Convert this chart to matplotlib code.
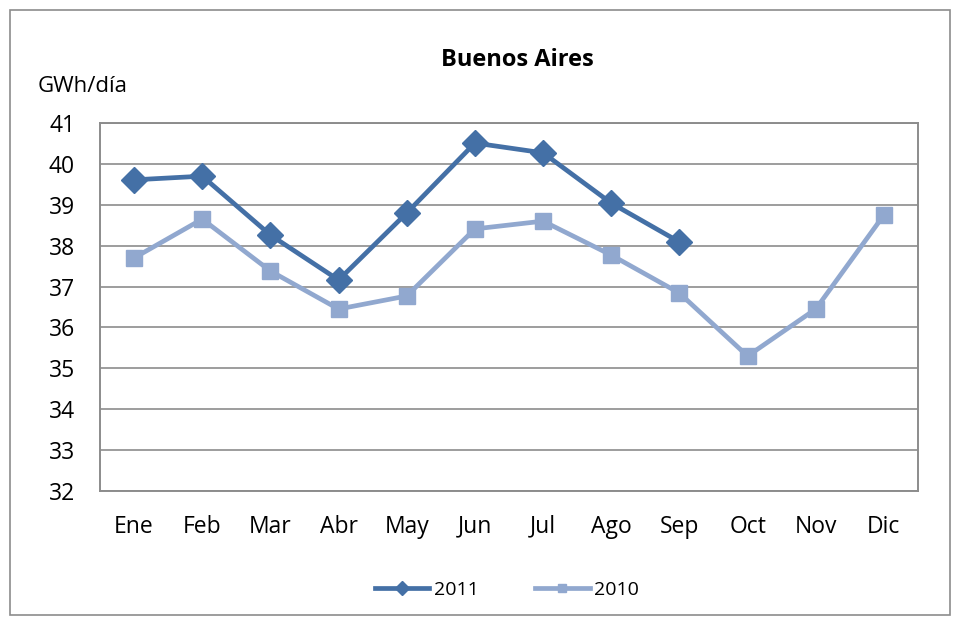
import matplotlib.pyplot as plt
import numpy as np
from matplotlib.patches import Rectangle

# meses y consumo diario (GWh/día)
meses = ["Ene", "Feb", "Mar", "Abr", "May", "Jun", "Jul", "Ago", "Sep", "Oct", "Nov", "Dic"]
valores_2011 = [39.61, 39.70, 38.26, 37.16, 38.80, 40.51, 40.27, 39.04, 38.09]
valores_2010 = [37.70, 38.65, 37.38, 36.45, 36.77, 38.41, 38.60, 37.77, 36.84, 35.30, 36.45, 38.75]

plt.rcParams['font.family'] = ['Open Sans', 'DejaVu Sans']

fig = plt.figure(figsize=(9.56, 6.21), dpi=100)
ax = fig.add_axes([100 / 956, 1 - 491 / 621, 818 / 956, 368 / 621])

# marco exterior del gráfico
fig.patches.append(Rectangle((10 / 956, 1 - 615 / 621), 940 / 956, 605 / 621,
                             transform=fig.transFigure, fill=False,
                             edgecolor='#8c8c8c', linewidth=1.2))

x = np.arange(len(meses))
c2011 = '#4470a6'
c2010 = '#91a8cf'

ax.plot(x[:len(valores_2011)], valores_2011, color=c2011, linewidth=3.4,
        marker='D', markersize=13, label='2011', zorder=4)
ax.plot(x, valores_2010, color=c2010, linewidth=3.4,
        marker='s', markersize=11, label='2010', zorder=3)

ax.set_xlim(-0.5, 11.5)
ax.set_ylim(32, 41)
ax.set_yticks(range(32, 42))
ax.set_xticks(x)
ax.set_xticklabels(meses)
ax.tick_params(axis='both', length=0, labelsize=16.5)
ax.tick_params(axis='x', pad=17)
ax.tick_params(axis='y', pad=18)
ax.yaxis.grid(True, color='#8c8c8c', linewidth=1.2)
ax.set_axisbelow(True)
for s in ax.spines.values():
    s.set_color('#8c8c8c')
    s.set_linewidth(1.4)

fig.text(517 / 956, 1 - 60 / 621, "Buenos Aires", ha='center', va='center',
         fontsize=17, fontweight='bold')
fig.text(38 / 956, 1 - 86 / 621, "GWh/día", ha='left', va='center', fontsize=16)

fig.legend(loc='center', bbox_to_anchor=(507 / 956, 1 - 590 / 621), ncols=2,
           frameon=False, fontsize=14, handlelength=2.8, columnspacing=2.9,
           handletextpad=0.25, markerscale=0.55)

fig.savefig('out.png', dpi=100)
